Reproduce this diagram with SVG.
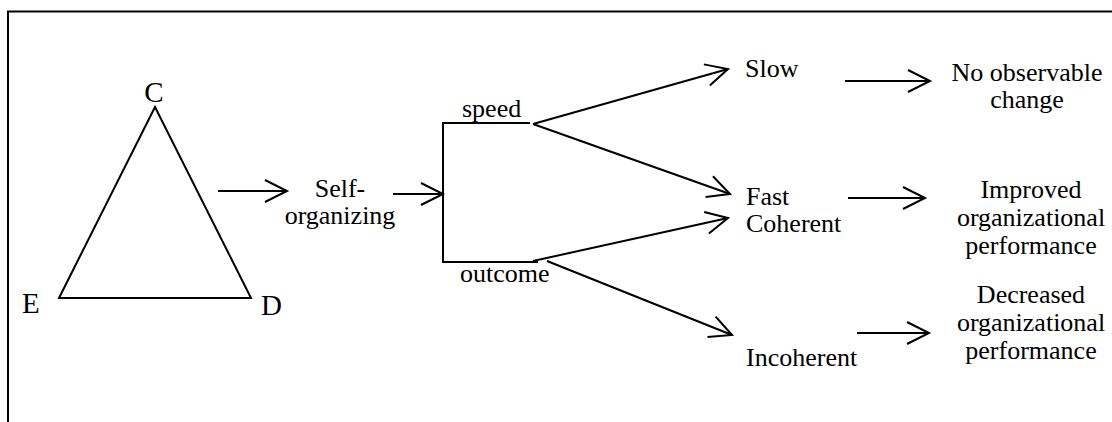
<svg xmlns="http://www.w3.org/2000/svg" width="1112" height="422" viewBox="0 0 1112 422">
<style>
.ln{stroke:#000;stroke-width:2;fill:none}
</style>
<defs>
<marker id="ah" markerUnits="userSpaceOnUse" orient="auto" viewBox="-25 -14 28 28" markerWidth="28" markerHeight="28" refX="0" refY="0">
<path d="M-22,-11 L0,0 L-22,11" fill="none" stroke="#000" stroke-width="2"/>
</marker>
</defs>
<rect x="0" y="0" width="1112" height="422" fill="#fff"/>
<rect x="8" y="11.5" width="1200" height="500" fill="none" stroke="#000" stroke-width="2"/>
<g id="triangle">
<polygon points="155,107 59,298 251,298" class="ln"/>
<text font-family="Liberation Serif, serif" font-size="29" text-anchor="middle" x="154" y="102">C</text>
<text font-family="Liberation Serif, serif" font-size="29" x="22" y="313">E</text>
<text font-family="Liberation Serif, serif" font-size="29" x="261" y="315">D</text>
</g>
<g id="self-organizing">
<text font-family="Liberation Serif, serif" font-size="26" text-anchor="middle" x="340" y="197">Self-</text>
<text font-family="Liberation Serif, serif" font-size="26" text-anchor="middle" x="340" y="224">organizing</text>
</g>
<g id="branch">
<path d="M530,123 H443 V262 H538" class="ln"/>
<text font-family="Liberation Serif, serif" font-size="26" x="462" y="117">speed</text>
<text font-family="Liberation Serif, serif" font-size="26" x="460" y="282">outcome</text>
</g>
<g id="slow"><text font-family="Liberation Serif, serif" font-size="26" x="745" y="77">Slow</text></g>
<g id="fast-coherent">
<text font-family="Liberation Serif, serif" font-size="26" x="746" y="205">Fast</text>
<text font-family="Liberation Serif, serif" font-size="26" x="746" y="232">Coherent</text>
</g>
<g id="incoherent"><text font-family="Liberation Serif, serif" font-size="26" x="746" y="366">Incoherent</text></g>
<g id="no-change">
<text font-family="Liberation Serif, serif" font-size="26" text-anchor="middle" x="1027" y="81">No observable</text>
<text font-family="Liberation Serif, serif" font-size="26" text-anchor="middle" x="1027" y="108">change</text>
</g>
<g id="improved">
<text font-family="Liberation Serif, serif" font-size="26" text-anchor="middle" x="1031" y="198">Improved</text>
<text font-family="Liberation Serif, serif" font-size="26" text-anchor="middle" x="1031" y="226">organizational</text>
<text font-family="Liberation Serif, serif" font-size="26" text-anchor="middle" x="1031" y="254">performance</text>
</g>
<g id="decreased">
<text font-family="Liberation Serif, serif" font-size="26" text-anchor="middle" x="1031" y="303">Decreased</text>
<text font-family="Liberation Serif, serif" font-size="26" text-anchor="middle" x="1031" y="331">organizational</text>
<text font-family="Liberation Serif, serif" font-size="26" text-anchor="middle" x="1031" y="359">performance</text>
</g>
<g id="connectors" class="ln">
<line x1="218" y1="191" x2="287" y2="191" marker-end="url(#ah)"/>
<line x1="393" y1="194" x2="443" y2="194" marker-end="url(#ah)"/>
<line x1="533" y1="124" x2="728" y2="69" marker-end="url(#ah)"/>
<line x1="533" y1="124" x2="730" y2="194" marker-end="url(#ah)"/>
<line x1="533" y1="261" x2="728" y2="218" marker-end="url(#ah)"/>
<line x1="547" y1="261" x2="732" y2="335" marker-end="url(#ah)"/>
<line x1="845" y1="81" x2="930" y2="81" marker-end="url(#ah)"/>
<line x1="848" y1="198" x2="925" y2="198" marker-end="url(#ah)"/>
<line x1="857" y1="333" x2="929" y2="333" marker-end="url(#ah)"/>
</g>
</svg>
